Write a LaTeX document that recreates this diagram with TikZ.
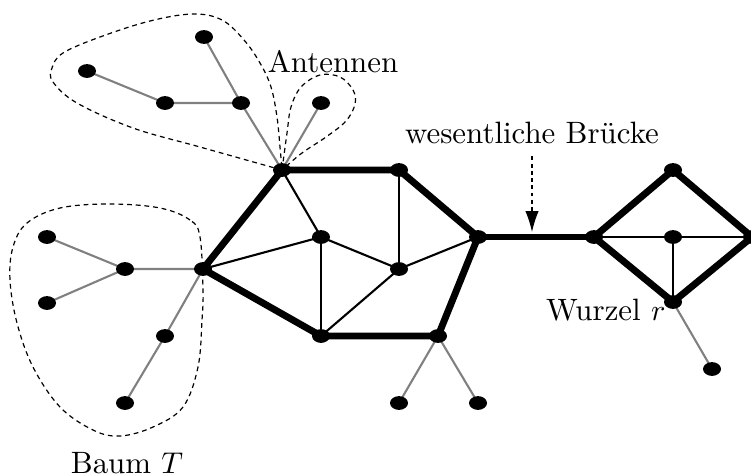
\documentclass[tikz,border=0pt]{standalone}
\usetikzlibrary{shapes.geometric,arrows.meta,backgrounds}
\begin{document}
\begin{tikzpicture}[x=0.33333pt,y=-0.33333pt,
  font=\fontsize{10.3}{12}\selectfont,
  dot/.style={ellipse,fill=black,minimum width=6pt,minimum height=4.6pt,inner sep=0pt},
  strong/.style={line width=2.3pt,line join=round},
  plain/.style={line width=0.7pt},
  tree/.style={line width=0.7pt,draw=gray},
  hull/.style={dash pattern=on 1.6pt off 1.3pt,line width=0.4pt}]
\useasboundingbox (0,0) rectangle (751,475);

% antennae
\node[dot] (a1) at (87,71) {};
\node[dot] (a2) at (165,103) {};
\node[dot] (a3) at (241,103) {};
\node[dot] (a4) at (204,37) {};
\node[dot] (a5) at (321,103) {};

% tree T
\node[dot] (t1) at (47,237) {};
\node[dot] (t2) at (47,303) {};
\node[dot] (t3) at (125,269) {};
\node[dot] (t4) at (165,336) {};
\node[dot] (t5) at (125,403) {};

% left block
\node[dot] (h1) at (282,170) {};
\node[dot] (b2) at (399,170) {};
\node[dot] (b3) at (478,237) {};
\node[dot] (b4) at (438,336) {};
\node[dot] (b5) at (321,336) {};
\node[dot] (h2) at (203,269) {};
\node[dot] (c1) at (321,237) {};
\node[dot] (c2) at (399,269) {};
\node[dot] (p1) at (399,403) {};
\node[dot] (p2) at (478,403) {};

% right block
\node[dot] (r1) at (594,237) {};
\node[dot] (r2) at (673,170) {};
\node[dot] (r3) at (752,237) {};
\node[dot] (r4) at (673,302) {};
\node[dot] (r5) at (673,237) {};
\node[dot] (p3) at (712,369) {};

\begin{scope}[on background layer]
  % grey tree edges
  \draw[tree] (a1.center) -- (a2.center) -- (a3.center) -- (h1.center);
  \draw[tree] (a4.center) -- (a3.center);
  \draw[tree] (a5.center) -- (h1.center);
  \draw[tree] (t1.center) -- (t3.center) -- (h2.center) -- (t4.center) -- (t5.center);
  \draw[tree] (t2.center) -- (t3.center);
  \draw[tree] (b4.center) -- (p1.center);
  \draw[tree] (b4.center) -- (p2.center);
  \draw[tree] (r4.center) -- (p3.center);
  % inner edges
  \draw[plain] (h1.center) -- (c1.center);
  \draw[plain] (h2.center) -- (c1.center);
  \draw[plain] (c1.center) -- (b5.center);
  \draw[plain] (c1.center) -- (c2.center);
  \draw[plain] (b2.center) -- (c2.center);
  \draw[plain] (c2.center) -- (b3.center);
  \draw[plain] (c2.center) -- (b5.center);
  \draw[plain] (r1.center) -- (r5.center) -- (r3.center);
  \draw[plain] (r5.center) -- (r4.center);
  % outer cycles and the bridge
  \draw[strong] (h1.center) -- (b2.center) -- (b3.center) -- (b4.center)
    -- (b5.center) -- (h2.center) -- cycle;
  \draw[strong] (b3.center) -- (r1.center);
  \draw[strong] (r1.center) -- (r2.center) -- (r3.center) -- (r4.center) -- cycle;
\end{scope}

% dashed hulls
\draw[hull] plot[smooth,tension=0.6] coordinates {(h1.center) (200,147) (133,128) (77,103)
  (53,82) (52,68) (63,53) (100,37) (150,21) (193,14) (222,20) (244,40) (260,63) (271,87)
  (277,117) (280,147) (h1.center)};
\draw[hull] plot[smooth,tension=0.6] coordinates {(h1.center) (287,133) (291,107) (301,87)
  (320,75) (340,77) (353,90) (355,104) (346,121) (326,137) (302,153) (h1.center)};
\draw[hull] plot[smooth cycle,tension=0.6] coordinates {(200,237) (190,220) (160,208)
  (110,204) (60,208) (27,223) (13,247) (10,280) (17,323) (33,367) (60,407) (93,430)
  (120,436) (153,427) (183,407) (198,367) (202,320) (203,290)};

% labels
\node (antl) at (333,62) {Antennen};
\node (brl) at (532,133) {wesentliche Br\"ucke};
\node[anchor=east,inner sep=0pt] (wl) at (666,310) {Wurzel $r$};
\node (baum) at (127,463) {Baum $T$};
\coordinate (brt) at (532,232);
\draw[dash pattern=on 1.3pt off 1.1pt,line width=0.4pt,-{Latex[length=7pt,width=4.5pt]}]
  (brl.south) ++(0,2) -- (brt);
\end{tikzpicture}
\end{document}
